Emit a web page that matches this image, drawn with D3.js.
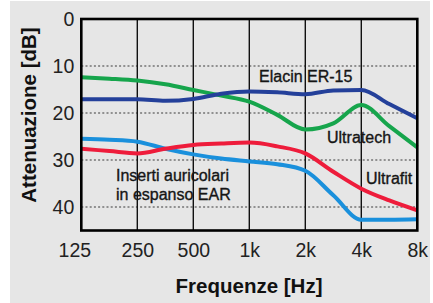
<!DOCTYPE html>
<html>
<head>
<meta charset="utf-8">
<script src="https://cdn.jsdelivr.net/npm/d3@7"></script>
<style>
  html, body { margin: 0; padding: 0; background: #ffffff; }
  svg { display: block; }
  text { font-family: "Liberation Sans", Arial, Helvetica, sans-serif; }
</style>
</head>
<body>
<div id="chart"></div>
<script>
// ---- data ----
const frequencies = [125, 177, 250, 354, 500, 707, 1000, 1414, 2000, 2828, 4000, 5657, 8000];
const tickFrequencies = [125, 250, 500, 1000, 2000, 4000, 8000];
const tickLabels = ["125", "250", "500", "1k", "2k", "4k", "8k"];
const dbTicks = [0, 10, 20, 30, 40];
const seriesNames = ["Ultratech", "Elacin ER-15", "Inserti auricolari in espanso EAR", "Ultrafit"];
const ultratech = [12.4, 12.7, 13.1, 13.9, 15.1, 16.3, 17.6, 20.4, 23.5, 22.2, 18.3, 22.8, 27.3];
const elacin    = [17.1, 17.1, 17.1, 17.4, 17.0, 15.9, 15.4, 15.6, 16.0, 15.2, 15.1, 18.1, 21.1];
const ear       = [25.5, 25.7, 26.1, 27.6, 28.8, 29.7, 30.3, 30.9, 32.3, 37.5, 42.7, 42.7, 42.6];
const ultrafit  = [27.6, 28.1, 28.6, 27.6, 26.8, 26.5, 26.3, 27.1, 28.6, 32.5, 36.1, 38.6, 40.7];

const W = 433, H = 303;
const svg = d3.select("#chart").append("svg").attr("width", W).attr("height", H);

// background panel
svg.append("rect").attr("x", 10).attr("y", 1).attr("width", 420).attr("height", 302).attr("fill", "#e6e6e6");

const x = d3.scaleLog().base(2).domain([125, 8000]).range([81.3, 417.3]);
const y = d3.scaleLinear().domain([0, 45]).range([19, 230.5]);

// horizontal dotted grid
svg.append("g").selectAll("line").data(dbTicks.filter(d => d > 0)).join("line")
  .attr("x1", x(125)).attr("x2", x(8000))
  .attr("y1", d => y(d)).attr("y2", d => y(d))
  .attr("stroke", "#3a3a3a").attr("stroke-width", 1.2).attr("stroke-dasharray", "2,2.2");

// vertical grid
svg.append("g").selectAll("line").data(tickFrequencies).join("line")
  .attr("x1", d => x(d)).attr("x2", d => x(d))
  .attr("y1", y(0)).attr("y2", y(45))
  .attr("stroke", "#111").attr("stroke-width", 1.4);

// curves
const series = [
  { name: seriesNames[0], values: ultratech, color: "#16a54c" },
  { name: seriesNames[1], values: elacin, color: "#24409a" },
  { name: seriesNames[2], values: ear, color: "#1a90dc" },
  { name: seriesNames[3], values: ultrafit, color: "#ee1c3b" }
];
const line = d3.line().x(d => x(d[0])).y(d => y(d[1])).curve(d3.curveMonotoneX);
svg.append("g").selectAll("path").data(series).join("path")
  .attr("d", s => line(frequencies.map((f, i) => [f, s.values[i]])))
  .attr("fill", "none").attr("stroke", s => s.color)
  .attr("stroke-width", 4).attr("stroke-linejoin", "round").attr("stroke-linecap", "butt");

// frame
svg.append("rect")
  .attr("x", x(125)).attr("y", y(0))
  .attr("width", x(8000) - x(125)).attr("height", y(45) - y(0))
  .attr("fill", "none").attr("stroke", "#000").attr("stroke-width", 2.6);

// axes
const yAxis = svg.append("g").attr("transform", `translate(${x(125)},0)`)
  .call(d3.axisLeft(y).tickValues(dbTicks).tickSize(0).tickPadding(7).tickFormat(d3.format("d")));
yAxis.select(".domain").remove();
yAxis.selectAll("text").attr("font-size", 19.5).attr("fill", "#222")
  .attr("font-family", "'Liberation Sans', Arial, sans-serif");

const xAxis = svg.append("g").attr("transform", `translate(0,${y(45)})`)
  .call(d3.axisBottom(x).tickValues(tickFrequencies).tickSize(0).tickPadding(13)
    .tickFormat((d, i) => tickLabels[i]));
xAxis.select(".domain").remove();
xAxis.selectAll("text").attr("font-size", 19.5).attr("fill", "#222")
  .attr("font-family", "'Liberation Sans', Arial, sans-serif")
  .attr("dx", (d, i) => i === 0 ? -7 : 0);

// axis titles
svg.append("text").attr("x", 249).attr("y", 292.5).attr("text-anchor", "middle")
  .attr("font-size", 20.5).attr("font-weight", "bold").attr("fill", "#111")
  .text("Frequenze [Hz]");
svg.append("text").attr("transform", "translate(36,115) rotate(-90)").attr("text-anchor", "middle")
  .attr("font-size", 20.5).attr("font-weight", "bold").attr("fill", "#111")
  .text("Attenuazione [dB]");

// series labels
const lab = (t, lx, ly) => svg.append("text").attr("x", lx).attr("y", ly)
  .attr("font-size", 16).attr("fill", "#151515")
  .attr("stroke", "#151515").attr("stroke-width", 0.35).text(t);
lab("Elacin ER-15", 259, 82);
lab("Ultratech", 327, 143);
lab("Ultrafit", 366, 184);
lab("Inserti auricolari", 116, 180.5);
lab("in espanso EAR", 116, 200);
</script>
</body>
</html>
